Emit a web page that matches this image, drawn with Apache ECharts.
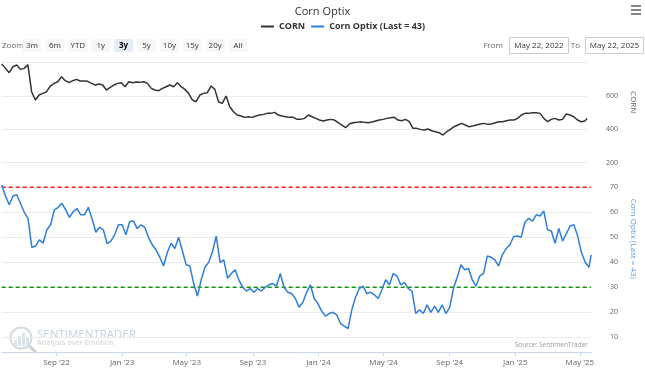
<!DOCTYPE html>
<html><head><meta charset="utf-8">
<script src="https://cdn.jsdelivr.net/npm/echarts@6/dist/echarts.min.js"></script>
<style>html,body{margin:0;padding:0;background:#fff}#c{width:645px;height:369px}</style>
</head><body><div id="c"></div>
<script>
// ---- data ----
const startDate = '2022-05-22';
const endDate = '2025-05-22';
const weeks = 157; // weekly samples from startDate, last sample on endDate
const cornValues = [
792,766,740,776,786,760,766,788,626,576,
606,616,626,660,676,686,716,692,680,692,
700,690,690,688,676,666,672,666,636,652,
666,676,680,656,686,680,684,682,686,676,
646,636,632,646,656,666,656,680,656,640,
616,576,566,606,616,620,660,640,566,556,
600,536,506,486,480,472,476,472,480,486,
490,496,496,502,486,480,476,472,472,460,
460,466,486,476,466,456,450,456,460,456,
440,426,410,432,440,442,446,442,440,444,
450,456,460,466,470,472,456,452,460,446,
406,406,400,396,402,392,386,380,366,386,
400,416,426,436,426,416,420,426,432,436,
430,432,440,446,446,452,456,456,466,486,
496,496,500,500,496,466,446,460,466,456,
460,492,486,476,456,446,450,
466];
const optixValues = [
70.9,66.5,63,66.5,67,63.5,60,57.5,46,46.5,
49,47.6,53,55,61,62,63.6,61,58,60.3,
61.5,59,59,62,57.5,52,54,53,47.5,48.5,
51,55,55,51,56.3,56.5,53.5,55,54,50,
47,45,42,38.5,44,47.6,45.5,50,44.5,39,
38.5,31.5,26.5,33,38,40,44.3,50.5,40,41,
33.6,35.5,37,33,30,28.5,29.5,28,29.5,28.5,
30,31,31.5,30.5,35.5,30,28,27.5,25.5,22,
24,28,31,25.5,23.5,20.5,18.5,19.5,20,19,
15.5,14.5,13.5,21,26,29.5,30.5,27.5,28,27,
25.5,29,33,31,35.5,34.5,31,32,29.5,28.5,
19.5,21,19.5,23,20,22.5,20,23,19.5,22,
29.5,34,39,37,37.5,33,30.5,34.5,35.6,42.5,
42,41,38.5,43,45.5,47,50.3,50.5,50,56,
57.6,56.5,59,58.5,60.5,53,52.5,47.6,53.5,48.5,
51.5,54.5,55,50.5,44,40,38,
43];
const tickDates = ['2022-09-01','2023-01-01','2023-05-01','2023-09-01','2024-01-01','2024-05-01','2024-09-01','2025-01-01','2025-05-01'];
const tickLabels = ["Sep '22","Jan '23","May '23","Sep '23","Jan '24","May '24","Sep '24","Jan '25","May '25"];
const upperLevel = 70;
const lowerLevel = 30;
const zoomButtons = ['3m','6m','YTD','1y','3y','5y','10y','15y','20y','All'];
const selectedButton = '3y';
const fromText = 'May 22, 2022';
const toText = 'May 22, 2025';

// ---- build ----
const t0 = Date.parse(startDate), t1 = Date.parse(endDate);
const dates = [];
for (let i = 0; i < weeks; i++) dates.push(t0 + i * 7 * 86400000);
dates.push(t1);
const cornData = dates.map((d, i) => [d, cornValues[i]]);
const optixData = dates.map((d, i) => [d, optixValues[i]]);
const tickTimes = tickDates.map(d => Date.parse(d));

const FONT = 'Open Sans';
const BLUE = '#2f7ed8';

const graphics = [];
graphics.push({type:'text', x:2, y:45.5, style:{text:'Zoom', fontSize:8, fill:'#666', verticalAlign:'middle', fontFamily:FONT}});
zoomButtons.forEach((b, i) => {
  const cx = 32 + i * 22.9;
  const sel = b === selectedButton;
  graphics.push({type:'rect', shape:{x:cx-9.5, y:39, width:19, height:13, r:1}, style:{fill: sel ? '#e6ebf5' : '#f7f7f7'}});
  graphics.push({type:'text', x:cx, y:45.5, style:{text:b, fontSize:8, fill: sel ? '#000' : '#333', fontWeight: sel ? 'bold' : 'normal', align:'center', verticalAlign:'middle', fontFamily:FONT}});
});
graphics.push({type:'text', x:503, y:45.5, style:{text:'From', fontSize:8, fill:'#666', align:'right', verticalAlign:'middle', fontFamily:FONT}});
graphics.push({type:'rect', shape:{x:509.5, y:37.5, width:59, height:16}, style:{fill:'#fff', stroke:'#cccccc', lineWidth:1}});
graphics.push({type:'text', x:539, y:45.5, style:{text:fromText, fontSize:8, fill:'#333', align:'center', verticalAlign:'middle', fontFamily:FONT}});
graphics.push({type:'text', x:580, y:45.5, style:{text:'To', fontSize:8, fill:'#666', align:'right', verticalAlign:'middle', fontFamily:FONT}});
graphics.push({type:'rect', shape:{x:585.5, y:37.5, width:58, height:16}, style:{fill:'#fff', stroke:'#cccccc', lineWidth:1}});
graphics.push({type:'text', x:614.5, y:45.5, style:{text:toText, fontSize:8, fill:'#333', align:'center', verticalAlign:'middle', fontFamily:FONT}});
// menu icon
[6, 10, 14].forEach(y => graphics.push({type:'line', shape:{x1:631, y1:y, x2:641, y2:y}, style:{stroke:'#666', lineWidth:1.6}}));
// watermark
graphics.push({type:'circle', shape:{cx:21, cy:338, r:10.5}, style:{fill:'none', stroke:'#d3dbe3', lineWidth:2}});
[[14,340,3,6],[18,336,3,10],[22,333,3,13],[26,337,3,9]].forEach(r => graphics.push({type:'rect', shape:{x:r[0], y:r[1], width:r[2], height:r[3]}, style:{fill:'#dde3ea'}}));
graphics.push({type:'line', shape:{x1:29, y1:346, x2:36, y2:352}, style:{stroke:'#c8d2dc', lineWidth:3}});
graphics.push({type:'text', x:37, y:334.5, style:{text:'SENTIMENTRADER', fontSize:11.5, fill:'#c3d2e2', verticalAlign:'middle', fontFamily:FONT}});
graphics.push({type:'text', x:37, y:343, style:{text:'Analysis over Emotion', fontSize:7.5, fill:'#cfcfcf', verticalAlign:'middle', fontFamily:FONT}});
graphics.push({type:'text', x:588, y:345.5, style:{text:'Source: SentimenTrader', fontSize:6.5, fill:'#999', align:'right', verticalAlign:'middle', fontFamily:FONT}});

const levelSeries = (name, level, color) => ({
  name, type:'line', xAxisIndex:1, yAxisIndex:1, symbol:'none', showSymbol:false, silent:true,
  data:[[t0, level], [t1, level]],
  lineStyle:{color, type:[4,3], width:1.6}, itemStyle:{color}, z:1
});

const chart = echarts.init(document.getElementById('c'), null, {renderer:'canvas'});
chart.setOption({
  animation:false,
  backgroundColor:'#fff',
  textStyle:{fontFamily:FONT},
  title:{text:'Corn Optix', left:'center', top:1, textStyle:{fontSize:11, fontWeight:'normal', color:'#333', fontFamily:FONT}},
  legend:{top:17, left:256, itemGap:6, itemWidth:13, itemHeight:2, icon:'rect',
    textStyle:{fontSize:9, fontWeight:'bold', color:'#333', fontFamily:FONT},
    data:['CORN','Corn Optix (Last = 43)']},
  grid:[
    {left:1.7, right:52, top:62.7, height:100},
    {left:1.7, right:52, top:177.3, height:175}
  ],
  xAxis:[
    {type:'value', gridIndex:0, min:t0, max:t1, show:false},
    {type:'value', gridIndex:1, min:t0, max:t1,
      axisLine:{lineStyle:{color:'#ccd6eb'}},
      axisTick:{length:4, lineStyle:{color:'#ccd6eb'}, customValues:tickTimes},
      axisLabel:{customValues:tickTimes, fontSize:8, color:'#666', margin:6, fontFamily:FONT,
        formatter:(v) => { const i = tickTimes.indexOf(v); return i >= 0 ? tickLabels[i] : ''; }},
      splitLine:{show:false}}
  ],
  yAxis:[
    {type:'value', gridIndex:0, position:'right', min:200, max:800, interval:200,
      axisLine:{show:false}, axisTick:{show:false},
      axisLabel:{showMaxLabel:false, fontSize:7, color:'#666', margin:19, padding:[0,0,7,0], fontFamily:FONT},
      splitLine:{lineStyle:{color:'#ececec'}},
      name:'CORN', nameLocation:'middle', nameRotate:-90, nameGap:34,
      nameTextStyle:{fontSize:8, color:'#666', padding:[0,21,0,0], fontFamily:FONT}},
    {type:'value', gridIndex:1, position:'right', min:4, max:74, splitNumber:7,
      axisLine:{show:false}, axisTick:{show:false},
      axisLabel:{showMinLabel:false, showMaxLabel:false, fontSize:7, color:'#666', margin:19, padding:[0,0,7,0], fontFamily:FONT},
      splitLine:{showMinLine:false, showMaxLine:false, lineStyle:{color:'#ececec'}},
      name:'Corn Optix (Last = 43)', nameLocation:'middle', nameRotate:-90, nameGap:34,
      nameTextStyle:{fontSize:8, color:'#5b9be0', padding:[0,52,0,0], fontFamily:FONT}}
  ],
  series:[
    {name:'CORN', type:'line', xAxisIndex:0, yAxisIndex:0, data:cornData, symbol:'none', showSymbol:false,
      lineStyle:{color:'#333', width:1.5}, itemStyle:{color:'#333'}},
    levelSeries('Upper', upperLevel, '#ff1a1a'),
    levelSeries('Lower', lowerLevel, '#139613'),
    {name:'Corn Optix (Last = 43)', type:'line', xAxisIndex:1, yAxisIndex:1, data:optixData, symbol:'none', showSymbol:false,
      lineStyle:{color:BLUE, width:1.5}, itemStyle:{color:BLUE}, z:3}
  ],
  graphic:graphics
});
</script></body></html>
